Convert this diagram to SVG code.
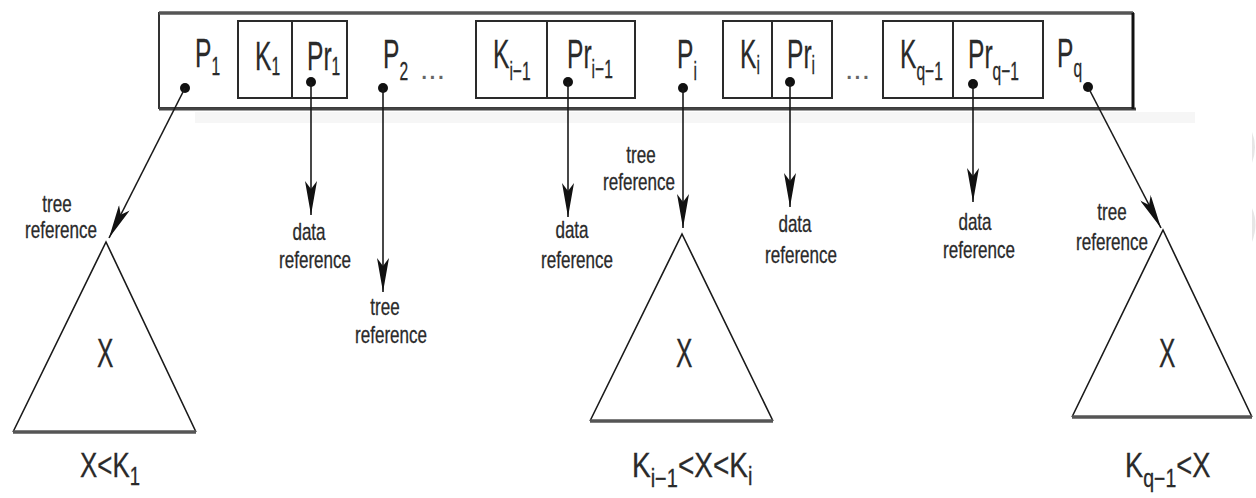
<svg xmlns="http://www.w3.org/2000/svg" width="1256" height="498" viewBox="0 0 1256 498">
<defs>
<style>
text{font-family:"Liberation Sans",Arial,sans-serif;fill:#2a2a2a;stroke:#2a2a2a;stroke-width:0.3}
.big{font-size:41px}
.sub{font-size:26px}
.sm{font-size:24px;text-anchor:middle}
.bot{font-size:35px}
.bsub{font-size:25px}
.dots{font-size:30px;fill:#666;stroke:none}
.box{fill:none;stroke:#2a2a2a;stroke-width:2}
.tri{fill:none;stroke:#1a1a1a;stroke-width:1.6}
.base{stroke:#555;stroke-width:3.5}
.conn{stroke:#1a1a1a;stroke-width:1.6;fill:none;marker-end:url(#ah)}
.dot{fill:#111}
</style>
<marker id="ah" viewBox="0 0 34 12" markerWidth="34" markerHeight="12" refX="34" refY="6" orient="auto" markerUnits="userSpaceOnUse">
<path d="M0,0 L34,6 L0,12 L8,6 z" fill="#111"/>
</marker>
</defs>
<rect width="1256" height="498" fill="#fff"/>
<rect x="195" y="112" width="1000" height="11" fill="#f6f6f6"/>
<path d="M1252,132 Q1258,147 1252,163 Z" fill="#e6e6e6"/>
<path d="M1252,208 Q1259,224 1252,242 Z" fill="#e6e6e6"/>

<g id="node-record">
<rect x="159" y="13" width="974" height="95" fill="#fff" stroke="#333" stroke-width="2"/>
<line x1="159" y1="13" x2="1133" y2="13" stroke="#555" stroke-width="3.5"/>
<line x1="159" y1="109" x2="1136" y2="109" stroke="#444" stroke-width="3"/>
<line x1="1133" y1="13" x2="1133" y2="109" stroke="#111" stroke-width="3"/>
<text class="big" transform="translate(195,67) scale(0.6,1)">P<tspan class="sub" dy="8">1</tspan></text>
<text class="big" transform="translate(383,68) scale(0.6,1)">P<tspan class="sub" dy="12">2</tspan></text>
<text class="dots" x="420" y="79">...</text>
<text class="big" transform="translate(677,68) scale(0.6,1)">P<tspan class="sub" dy="12">i</tspan></text>
<text class="dots" x="845" y="79">...</text>
<text class="big" transform="translate(1057,67) scale(0.6,1)">P<tspan class="sub" dy="10">q</tspan></text>
<circle class="dot" cx="185" cy="88" r="5"/>
<circle class="dot" cx="383" cy="88" r="5"/>
<circle class="dot" cx="683" cy="88" r="5"/>
<circle class="dot" cx="1088" cy="87" r="5"/>
</g>

<g id="node-k1">
<rect class="box" x="238" y="21" width="109" height="77"/>
<line class="box" x1="292" y1="21" x2="292" y2="98"/>
<text class="big" transform="translate(255,70) scale(0.6,1)">K<tspan class="sub" dy="5">1</tspan></text>
<text class="big" transform="translate(307,70) scale(0.6,1)">Pr<tspan class="sub" dy="5">1</tspan></text>
<circle class="dot" cx="311" cy="82" r="5"/>
</g>

<g id="node-ki-1">
<rect class="box" x="476" y="21" width="159" height="77"/>
<line class="box" x1="547" y1="21" x2="547" y2="98"/>
<text class="big" transform="translate(493,68) scale(0.6,1)">K<tspan class="sub" dy="12">i−1</tspan></text>
<text class="big" transform="translate(567,68) scale(0.6,1)">Pr<tspan class="sub" dy="10">i−1</tspan></text>
<circle class="dot" cx="568" cy="82" r="5"/>
</g>

<g id="node-ki">
<rect class="box" x="723" y="21" width="109" height="77"/>
<line class="box" x1="772" y1="21" x2="772" y2="98"/>
<text class="big" transform="translate(740,68) scale(0.6,1)">K<tspan class="sub" dy="6">i</tspan></text>
<text class="big" transform="translate(787,68) scale(0.6,1)">Pr<tspan class="sub" dy="6">i</tspan></text>
<circle class="dot" cx="790" cy="82" r="5"/>
</g>

<g id="node-kq-1">
<rect class="box" x="883" y="21" width="160" height="77"/>
<line class="box" x1="953" y1="21" x2="953" y2="98"/>
<text class="big" transform="translate(900,68) scale(0.6,1)">K<tspan class="sub" dy="12">q−1</tspan></text>
<text class="big" transform="translate(968,68) scale(0.6,1)">Pr<tspan class="sub" dy="12">q−1</tspan></text>
<circle class="dot" cx="973" cy="84" r="5"/>
</g>

<g id="connectors">
<line class="conn" x1="185" y1="88" x2="109" y2="238"/>
<line class="conn" x1="311" y1="82" x2="311" y2="215"/>
<line class="conn" x1="383" y1="88" x2="383" y2="292"/>
<line class="conn" x1="568" y1="82" x2="568" y2="217"/>
<line class="conn" x1="683" y1="88" x2="683" y2="228"/>
<line class="conn" x1="790" y1="82" x2="790" y2="207"/>
<line class="conn" x1="973" y1="84" x2="973" y2="202"/>
<line class="conn" x1="1088" y1="87" x2="1161" y2="228"/>
</g>

<g id="labels">
<text class="sm" transform="translate(57,212) scale(0.71,1)">tree</text>
<text class="sm" transform="translate(61,238) scale(0.71,1)">reference</text>
<text class="sm" transform="translate(309,240) scale(0.71,1)">data</text>
<text class="sm" transform="translate(315,268) scale(0.71,1)">reference</text>
<text class="sm" transform="translate(385,315) scale(0.71,1)">tree</text>
<text class="sm" transform="translate(391,343) scale(0.71,1)">reference</text>
<text class="sm" transform="translate(572,238) scale(0.71,1)">data</text>
<text class="sm" transform="translate(577,268) scale(0.71,1)">reference</text>
<text class="sm" transform="translate(641,163) scale(0.71,1)">tree</text>
<text class="sm" transform="translate(639,190) scale(0.71,1)">reference</text>
<text class="sm" transform="translate(795,232) scale(0.71,1)">data</text>
<text class="sm" transform="translate(801,263) scale(0.71,1)">reference</text>
<text class="sm" transform="translate(975,230) scale(0.71,1)">data</text>
<text class="sm" transform="translate(979,258) scale(0.71,1)">reference</text>
<text class="sm" transform="translate(1112,220) scale(0.71,1)">tree</text>
<text class="sm" transform="translate(1112,250) scale(0.71,1)">reference</text>
</g>

<g id="tree-left">
<polyline class="tri" points="13,432 106,242 196,432"/>
<line class="base" x1="13" y1="432" x2="196" y2="432"/>
<text class="big" transform="translate(97,367) scale(0.6,1)">X</text>
<text class="bot" transform="translate(80,477) scale(0.74,1)">X&lt;K<tspan class="bsub" dy="8">1</tspan></text>
</g>

<g id="tree-middle">
<polyline class="tri" points="590,421 682,234 773,421"/>
<line class="base" x1="590" y1="421" x2="773" y2="421"/>
<text class="big" transform="translate(676,367) scale(0.6,1)">X</text>
<text class="bot" transform="translate(632,477) scale(0.8,1)">K<tspan class="bsub" dy="10">i−1</tspan><tspan dy="-10">&lt;X&lt;K</tspan><tspan class="bsub" dy="8">i</tspan></text>
</g>

<g id="tree-right">
<polyline class="tri" points="1072,417 1163,230 1252,417"/>
<line class="base" x1="1072" y1="417" x2="1252" y2="417"/>
<text class="big" transform="translate(1159,367) scale(0.6,1)">X</text>
<text class="bot" transform="translate(1125,477) scale(0.78,1)">K<tspan class="bsub" dy="10">q−1</tspan><tspan dy="-10">&lt;X</tspan></text>
</g>
</svg>
